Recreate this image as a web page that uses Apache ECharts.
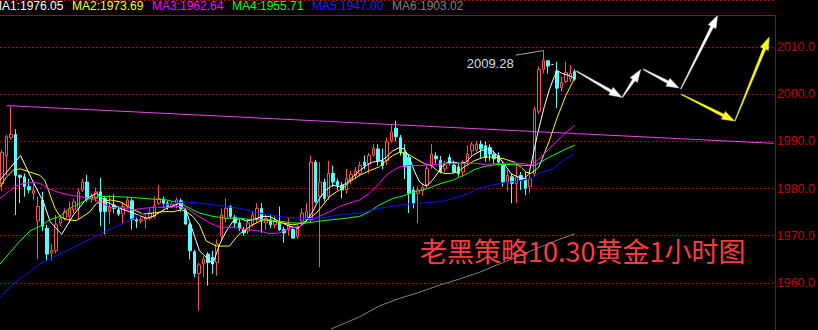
<!DOCTYPE html>
<html>
<head>
<meta charset="utf-8">
<title>黄金1小时图</title>
<script src="https://cdn.jsdelivr.net/npm/echarts@6/dist/echarts.min.js"></script>
<style>
  html, body { margin: 0; padding: 0; background: #000; }
  #chart { width: 818px; height: 330px; }
</style>
</head>
<body>
<div id="chart"></div>
<script>
// Hourly gold candles: [open, close, low, high]
const candles = [
  [1981.0,1987.7,1979.5,1988.2],[1987.0,1991.0,1982.8,1991.4],[1990.8,1991.5,1990.4,1997.4],[1991.5,1982.8,1974.4,1992.6],
  [1982.8,1982.4,1976.9,1983.0],[1982.5,1980.4,1978.3,1983.2],[1980.4,1979.7,1979.0,1982.1],[1979.0,1979.7,1977.6,1981.0],
  [1973.1,1976.2,1965.0,1978.3],[1977.5,1972.0,1971.0,1979.3],[1971.6,1966.1,1964.7,1972.3],[1966.3,1966.9,1964.7,1968.2],
  [1966.8,1972.3,1966.2,1974.4],[1972.7,1973.7,1972.0,1974.4],[1973.6,1975.1,1973.3,1975.8],[1974.1,1975.8,1973.0,1977.2],
  [1975.5,1977.2,1974.8,1977.9],[1975.8,1979.3,1973.4,1980.0],[1979.7,1981.4,1979.3,1982.1],[1981.4,1977.9,1977.2,1982.9],
  [1977.9,1978.4,1977.0,1979.0],[1977.9,1979.3,1977.2,1980.2],[1979.3,1975.1,1972.0,1982.3],[1977.9,1975.1,1970.3,1978.5],
  [1975.1,1976.2,1972.5,1978.6],[1976.5,1975.8,1974.8,1978.8],[1975.5,1974.6,1974.2,1976.3],[1974.6,1976.2,1972.5,1977.2],
  [1976.2,1977.6,1975.8,1978.3],[1977.4,1973.4,1971.3,1977.9],[1973.4,1973.1,1971.6,1973.8],[1973.1,1973.4,1972.6,1973.9],
  [1973.4,1973.9,1971.5,1974.4],[1973.7,1974.8,1973.3,1975.8],[1974.1,1976.4,1973.7,1978.3],[1976.9,1977.9,1976.5,1980.7],
  [1977.8,1976.9,1975.8,1978.3],[1976.9,1976.2,1975.5,1977.4],[1976.2,1976.7,1975.8,1977.2],[1976.9,1977.6,1975.8,1978.1],
  [1977.4,1975.8,1975.1,1977.9],[1975.3,1972.5,1972.3,1975.8],[1972.3,1966.8,1965.0,1972.7],[1966.6,1962.0,1961.2,1967.0],
  [1962.0,1963.8,1954.1,1964.3],[1964.0,1965.0,1961.2,1965.7],[1966.1,1964.3,1959.4,1966.5],[1965.4,1964.0,1961.9,1966.8],
  [1964.3,1968.2,1961.5,1969.2],[1969.9,1974.4,1969.2,1975.8],[1973.7,1975.8,1972.8,1977.9],[1976.2,1974.1,1973.7,1976.5],
  [1973.9,1972.7,1971.6,1974.4],[1972.7,1971.6,1971.0,1973.5],[1971.3,1970.6,1970.0,1971.9],[1971.0,1972.7,1970.3,1973.5],
  [1972.3,1974.4,1971.9,1975.1],[1973.7,1975.8,1972.7,1976.9],[1975.8,1973.1,1970.6,1976.9],[1972.7,1973.7,1971.3,1974.4],
  [1973.4,1972.3,1971.6,1974.4],[1972.3,1973.1,1971.6,1974.1],[1972.7,1971.3,1971.0,1976.2],[1971.3,1970.6,1968.5,1971.9],
  [1971.3,1972.3,1970.0,1973.7],[1971.3,1969.5,1969.3,1971.9],[1969.8,1971.6,1969.3,1972.3],[1973.1,1974.8,1972.3,1975.8],
  [1973.4,1975.1,1972.8,1976.9],[1973.4,1985.6,1972.8,1987.0],[1985.6,1977.2,1976.9,1986.1],[1978.3,1981.4,1963.3,1985.6],
  [1981.4,1977.9,1977.2,1982.1],[1978.3,1983.2,1977.6,1985.9],[1983.2,1981.4,1980.4,1984.9],[1981.5,1980.7,1979.7,1982.1],
  [1980.7,1979.7,1977.9,1981.4],[1979.7,1982.1,1978.9,1984.2],[1981.8,1983.0,1980.9,1983.8],[1982.8,1983.7,1982.0,1984.6],
  [1983.2,1984.9,1982.6,1985.7],[1985.6,1984.9,1984.1,1987.0],[1985.3,1987.0,1983.2,1987.6],[1987.1,1988.5,1986.8,1989.4],
  [1988.4,1985.9,1984.9,1989.4],[1985.9,1984.9,1984.1,1988.5],[1985.9,1989.9,1985.0,1990.8],[1990.1,1992.0,1989.7,1993.4],
  [1992.8,1991.0,1990.0,1994.4],[1990.8,1987.8,1987.0,1991.4],[1987.6,1984.6,1982.0,1989.4],[1986.6,1979.0,1974.8,1987.3],
  [1979.7,1976.9,1975.8,1980.4],[1979.0,1979.7,1972.7,1980.4],[1979.5,1980.2,1978.5,1981.0],[1980.7,1984.2,1980.0,1984.9],
  [1984.9,1987.3,1984.2,1989.4],[1986.9,1986.3,1985.3,1987.7],[1986.0,1983.5,1983.2,1986.9],[1984.2,1985.0,1983.5,1985.9],
  [1986.6,1985.3,1984.9,1987.3],[1985.0,1983.5,1983.2,1985.9],[1984.6,1983.2,1982.5,1985.6],[1983.5,1985.6,1982.5,1986.0],
  [1985.6,1987.3,1985.0,1989.1],[1988.0,1989.3,1986.7,1989.9],[1988.2,1989.4,1987.8,1990.0],[1989.4,1988.4,1986.5,1990.2],
  [1989.1,1986.6,1985.7,1990.0],[1988.7,1987.3,1985.9,1989.4],[1987.3,1986.3,1985.3,1988.0],[1987.0,1985.6,1984.9,1987.7],
  [1984.9,1981.4,1980.4,1985.7],[1981.4,1982.8,1979.5,1984.0],[1982.5,1981.1,1976.9,1983.2],[1981.1,1982.5,1976.9,1985.3],
  [1982.8,1981.8,1979.7,1983.5],[1982.1,1980.0,1978.6,1983.5],[1980.4,1982.1,1979.0,1983.8],[1983.2,1996.8,1982.5,1997.4],
  [1996.4,2005.3,1995.8,2005.9],[2005.3,2007.2,2004.4,2009.28],[2007.1,2006.0,2004.4,2007.2],[2006.3,2006.3,2006.2,2006.4],
  [2004.9,2001.3,1997.1,2006.9],[2001.4,2002.5,2000.6,2003.7],[2002.7,2004.6,2002.3,2006.9],[2003.2,2004.4,2002.6,2006.2],
  [2004.8,2003.2,2002.9,2005.3]
];

// Total hourly slots on the time axis (the right part is left free for the projection)
const slotCount = 173;

// Moving averages: [slot, price]
const ma1 = [[-0.5,1981.8],[4.1,1987.0],[6.9,1981.4],[9.2,1977.2],[10.7,1973.0],[13.3,1970.3],[15.9,1974.4],[18.9,1977.9],[21.1,1979.0],[23.3,1977.2],[26.3,1975.8],[29.3,1974.8],[32.2,1973.7],[33.7,1974.1],[36.7,1975.8],[39.7,1976.9],[41.2,1975.1],[42.6,1971.0],[44.1,1966.8],[46.4,1964.7],[47.1,1964.0],[48.6,1968.2],[50.1,1971.0],[51.6,1973.1],[53.1,1973.7],[54.6,1973.1],[56.0,1973.4],[58.3,1974.1],[59.8,1974.1],[62.0,1973.0],[64.2,1972.0],[66.1,1971.6],[68.0,1973.1],[69.4,1975.1],[70.9,1977.9],[72.4,1979.7],[73.9,1980.7],[75.4,1980.4],[76.9,1981.1],[78.4,1982.5],[79.9,1983.8],[81.4,1984.9],[82.8,1985.6],[84.7,1985.9],[85.8,1986.6],[87.3,1988.0],[88.8,1988.7],[89.9,1988.4],[91.0,1986.7],[92.1,1983.8],[93.3,1981.4],[94.4,1980.7],[95.1,1980.7],[96.2,1981.8],[97.3,1983.2],[98.5,1984.9],[99.6,1985.6],[101.1,1985.6],[102.2,1985.3],[103.7,1985.6],[105.1,1987.0],[107.0,1988.0],[108.5,1988.4],[109.6,1988.0],[110.7,1987.0],[112.2,1985.3],[113.7,1983.2],[115.2,1982.5],[116.7,1982.1],[117.8,1983.2],[119.6,1991.2],[121.2,1997.4],[122.3,2000.9],[123.4,2003.7],[124.1,2005.0],[125.2,2004.4],[126.4,2004.1],[128.0,2003.4]];
const ma2 = [[-0.5,1980.4],[1.0,1982.5],[2.5,1983.9],[4.0,1984.2],[6.2,1983.5],[8.4,1982.8],[9.5,1981.8],[10.7,1978.6],[11.8,1975.8],[12.9,1974.1],[14.4,1973.4],[16.6,1973.2],[18.1,1974.1],[19.6,1975.1],[21.1,1976.9],[22.6,1977.2],[24.1,1977.6],[26.3,1977.2],[27.8,1976.4],[29.3,1975.5],[31.5,1974.6],[33.7,1974.8],[35.9,1975.1],[38.2,1975.1],[40.1,1975.5],[41.2,1975.1],[42.6,1974.1],[44.1,1972.3],[45.6,1968.9],[47.9,1967.8],[50.8,1967.8],[52.3,1969.6],[53.8,1971.0],[56.0,1972.3],[58.3,1973.4],[60.5,1973.1],[62.7,1972.7],[65.0,1972.3],[67.2,1972.7],[68.7,1973.7],[70.2,1974.8],[71.7,1976.5],[73.2,1978.3],[74.7,1979.3],[76.1,1980.0],[77.6,1981.4],[79.9,1982.8],[82.1,1983.8],[84.3,1984.6],[85.8,1985.9],[87.3,1987.0],[88.8,1987.7],[90.6,1987.4],[92.5,1986.3],[94.4,1985.3],[95.9,1984.9],[97.3,1983.8],[98.8,1983.2],[100.3,1983.2],[101.8,1983.5],[103.3,1984.6],[105.5,1985.9],[107.8,1986.7],[110.0,1986.7],[112.2,1986.3],[114.5,1985.6],[115.9,1984.6],[117.1,1983.5],[118.2,1983.2],[119.3,1984.0],[120.0,1984.6],[122.3,1990.1],[124.1,1995.1],[126.0,1999.7],[128.0,2003.5]];
const ma3 = [[-0.5,1977.9],[1.0,1979.0],[2.8,1980.4],[4.7,1981.1],[6.9,1981.3],[8.4,1981.1],[10.3,1980.0],[12.5,1979.2],[15.1,1978.6],[17.4,1978.3],[19.6,1977.9],[21.8,1977.2],[24.1,1976.0],[26.3,1976.0],[29.3,1975.5],[31.5,1975.8],[33.7,1976.0],[36.7,1976.0],[39.7,1976.2],[41.2,1975.8],[43.4,1974.4],[46.4,1972.7],[48.6,1971.8],[51.6,1971.8],[54.6,1971.3],[57.5,1971.0],[59.8,1970.4],[62.0,1970.6],[64.2,1971.6],[66.5,1972.0],[68.7,1973.1],[70.9,1974.1],[73.2,1975.1],[75.4,1976.2],[77.6,1976.9],[79.9,1977.6],[82.1,1979.0],[84.3,1981.1],[85.8,1982.8],[87.3,1983.8],[88.8,1984.6],[91.0,1984.9],[93.6,1984.9],[98.8,1985.3],[101.8,1985.3],[105.5,1985.4],[107.8,1985.1],[110.7,1985.3],[113.7,1985.4],[116.7,1985.3],[118.2,1984.9],[120.0,1986.3],[121.5,1987.7],[124.5,1990.5],[126.0,1991.9],[128.0,1993.4]];
const ma4 = [[-0.5,1964.0],[1.7,1966.4],[4.0,1968.9],[6.2,1971.0],[8.4,1972.0],[10.7,1973.4],[12.9,1974.1],[15.1,1975.8],[17.4,1976.9],[19.6,1977.9],[21.8,1978.3],[25.5,1978.3],[29.3,1978.1],[33.0,1977.8],[36.7,1977.6],[39.7,1976.9],[41.9,1975.8],[44.1,1974.8],[47.1,1974.1],[50.1,1973.7],[53.1,1973.7],[56.0,1973.4],[59.0,1973.4],[62.0,1973.1],[65.0,1972.7],[68.0,1972.7],[70.9,1973.1],[73.9,1973.4],[76.9,1973.7],[79.9,1974.1],[82.1,1975.1],[84.3,1976.5],[87.3,1977.9],[89.6,1978.4],[92.1,1979.3],[95.1,1980.0],[98.1,1981.1],[101.1,1981.9],[104.0,1983.2],[105.5,1984.0],[107.8,1984.7],[110.7,1985.1],[113.7,1985.1],[116.7,1984.9],[118.9,1984.9],[120.0,1985.4],[123.0,1987.0],[126.0,1988.4],[128.0,1989.2]];
const ma5 = [[-0.5,1957.0],[2.5,1959.8],[5.5,1961.9],[8.4,1964.0],[11.4,1965.4],[14.4,1966.8],[17.4,1968.2],[20.3,1969.6],[23.3,1971.0],[26.3,1972.3],[29.3,1973.7],[32.2,1975.1],[35.2,1976.2],[38.2,1976.9],[41.2,1977.2],[44.1,1976.9],[48.6,1976.4],[53.1,1975.8],[57.5,1974.8],[62.0,1974.1],[66.5,1973.6],[70.9,1973.7],[75.4,1974.4],[79.9,1974.8],[84.3,1975.8],[88.8,1976.5],[91.4,1976.7],[95.1,1977.0],[98.8,1977.4],[102.6,1978.4],[104.4,1979.0],[106.3,1980.0],[109.3,1980.7],[112.2,1981.2],[115.2,1981.6],[118.2,1982.1],[120.0,1983.2],[123.0,1984.2],[126.0,1986.3],[128.0,1987.4]];
const ma6 = [[73.5,1950.2],[79.9,1952.8],[84.3,1955.1],[88.8,1956.7],[93.3,1958.0],[97.7,1959.5],[102.2,1960.8],[106.6,1962.2],[111.1,1964.0],[115.6,1965.7],[120.0,1967.5],[124.5,1969.2],[128.0,1970.4]];

// Header readout of the averages
const maNames  = ['MA1', 'MA2', 'MA3', 'MA4', 'MA5', 'MA6'];
const maValues = [1976.05, 1973.69, 1962.64, 1955.71, 1947.00, 1903.02];

// Descending resistance line: [slot, price]
const trendLine = [[1.0, 1997.6], [172.5, 1989.6]];

// Peak annotation: leader start [slot, price] and the candle it points at
const peakLeader = [114.8, 2008.3];
const peakIndex = 121;

// Projected path legs: [fromSlot, fromPrice, toSlot, toPrice]
const whiteArrows = [
  [128.4, 2004.9, 138.6, 1999.3],
  [138.6, 1999.3, 142.8, 2005.3],
  [143.3, 2005.3, 151.4, 2001.3],
  [151.7, 2001.1, 160.0, 2016.8]
];
const yellowArrows = [
  [151.8, 2000.0, 163.8, 1994.3],
  [163.8, 1994.3, 171.5, 2012.2]
];

// Price axis
const priceMin = 1950, priceMax = 2020, priceStep = 10;

const caption = '老黑策略10.30黄金1小时图';

// ---------------------------------------------------------------
const maColors = ['#ffffff', '#ffff00', '#ff00ff', '#00ff00', '#1010ff', '#808080'];
const UP = '#ff5050', DOWN = '#50ffff', FRAME = '#b00000';

const categories = Array.from({ length: slotCount }, (_, i) => String(i));

const candleData = candles.map(c => c[0] === c[1]
  ? { value: c, itemStyle: { color: '#c8c8c8', color0: '#c8c8c8', borderColor: '#c8c8c8', borderColor0: '#c8c8c8' } }
  : c);

function arrowItem(color) {
  return function (params, api) {
    const a = api.coord([api.value(0), api.value(1)]);
    const b = api.coord([api.value(2), api.value(3)]);
    const dx = b[0] - a[0], dy = b[1] - a[1];
    const len = Math.hypot(dx, dy);
    const ux = dx / len, uy = dy / len, nx = -uy, ny = ux;
    const headLen = 13, headHalf = 4.5, tailHalf = 0.5, neckHalf = 1.6;
    const bx = b[0] - ux * headLen, by = b[1] - uy * headLen;
    const pts = [
      [a[0] + nx * tailHalf, a[1] + ny * tailHalf],
      [bx + nx * neckHalf, by + ny * neckHalf],
      [bx + nx * headHalf, by + ny * headHalf],
      [b[0], b[1]],
      [bx - nx * headHalf, by - ny * headHalf],
      [bx - nx * neckHalf, by - ny * neckHalf],
      [a[0] - nx * tailHalf, a[1] - ny * tailHalf]
    ];
    return { type: 'polygon', shape: { points: pts }, style: { fill: color, stroke: '#9a9a9a', lineWidth: 0.4 } };
  };
}

const maSeries = [ma1, ma2, ma3, ma4, ma5, ma6].map((d, k) => ({
  name: maNames[k],
  type: 'line',
  xAxisIndex: 1,
  data: d,
  showSymbol: false,
  silent: true,
  lineStyle: { color: maColors[k], width: 1 },
  z: 3
}));

const headerTexts = maNames.map((n, k) => ({
  type: 'text',
  left: -8 + k * 80,
  top: 0,
  style: {
    text: n + ':' + maValues[k].toFixed(2),
    fill: maColors[k] === '#1010ff' ? '#2020ff' : maColors[k],
    font: '12px "Liberation Sans", Arial, sans-serif'
  }
}));

const chart = echarts.init(document.getElementById('chart'), null, { renderer: 'svg' });

chart.setOption({
  backgroundColor: '#000000',
  animation: false,
  grid: { left: 0, width: 775, top: -1.1, height: 334.6, containLabel: false },
  xAxis: [
    { type: 'category', data: categories, boundaryGap: true, show: false },
    { type: 'value', min: -0.5, max: slotCount - 0.5, show: false }
  ],
  yAxis: {
    type: 'value',
    position: 'right',
    min: priceMin,
    max: priceMax,
    interval: priceStep,
    axisLine: { show: false },
    axisTick: { show: false },
    axisLabel: {
      color: '#c80000',
      fontSize: 12.5,
      fontFamily: '"Liberation Sans", Arial, sans-serif',
      margin: 3,
      showMaxLabel: false,
      showMinLabel: false,
      formatter: v => v.toFixed(1)
    },
    splitLine: { show: true, lineStyle: { color: '#c00000', width: 1, type: [2, 2] } }
  },
  series: [
    {
      type: 'candlestick',
      data: candleData,
      barWidth: 3,
      itemStyle: { color: '#000000', borderColor: UP, color0: DOWN, borderColor0: DOWN, borderWidth: 1 },
      z: 2
    },
    ...maSeries,
    {
      type: 'line',
      xAxisIndex: 1,
      data: trendLine,
      showSymbol: false,
      silent: true,
      lineStyle: { color: '#f040f0', width: 1 },
      z: 3
    },
    {
      type: 'line',
      xAxisIndex: 1,
      showSymbol: true,
      symbol: 'circle',
      symbolSize: 0,
      silent: true,
      lineStyle: { color: '#a8a8a8', width: 1 },
      data: [
        {
          value: peakLeader,
          label: {
            show: true,
            position: 'left',
            distance: 2,
            offset: [0, 8.5],
            color: '#d8dde6',
            fontSize: 13,
            fontFamily: '"Liberation Sans", Arial, sans-serif',
            formatter: () => candles[peakIndex][3].toFixed(2)
          }
        },
        [peakIndex, candles[peakIndex][3]]
      ],
      z: 4
    },
    {
      type: 'custom',
      xAxisIndex: 1,
      data: whiteArrows,
      renderItem: arrowItem('#ffffff'),
      silent: true,
      z: 5
    },
    {
      type: 'custom',
      xAxisIndex: 1,
      data: yellowArrows,
      renderItem: arrowItem('#ffff00'),
      silent: true,
      z: 5
    }
  ],
  graphic: [
    {
      type: 'polyline',
      shape: { points: [[0, 15.5], [775.5, 15.5], [775.5, 330]] },
      style: { stroke: FRAME, lineWidth: 1, fill: null },
      z: 10
    },
    ...headerTexts,
    {
      type: 'text',
      left: 420,
      top: 237,
      style: {
        text: caption,
        fill: '#ff3c3c',
        font: '27px "Noto Sans CJK SC", sans-serif'
      },
      z: 10
    }
  ]
});
</script>
</body>
</html>
